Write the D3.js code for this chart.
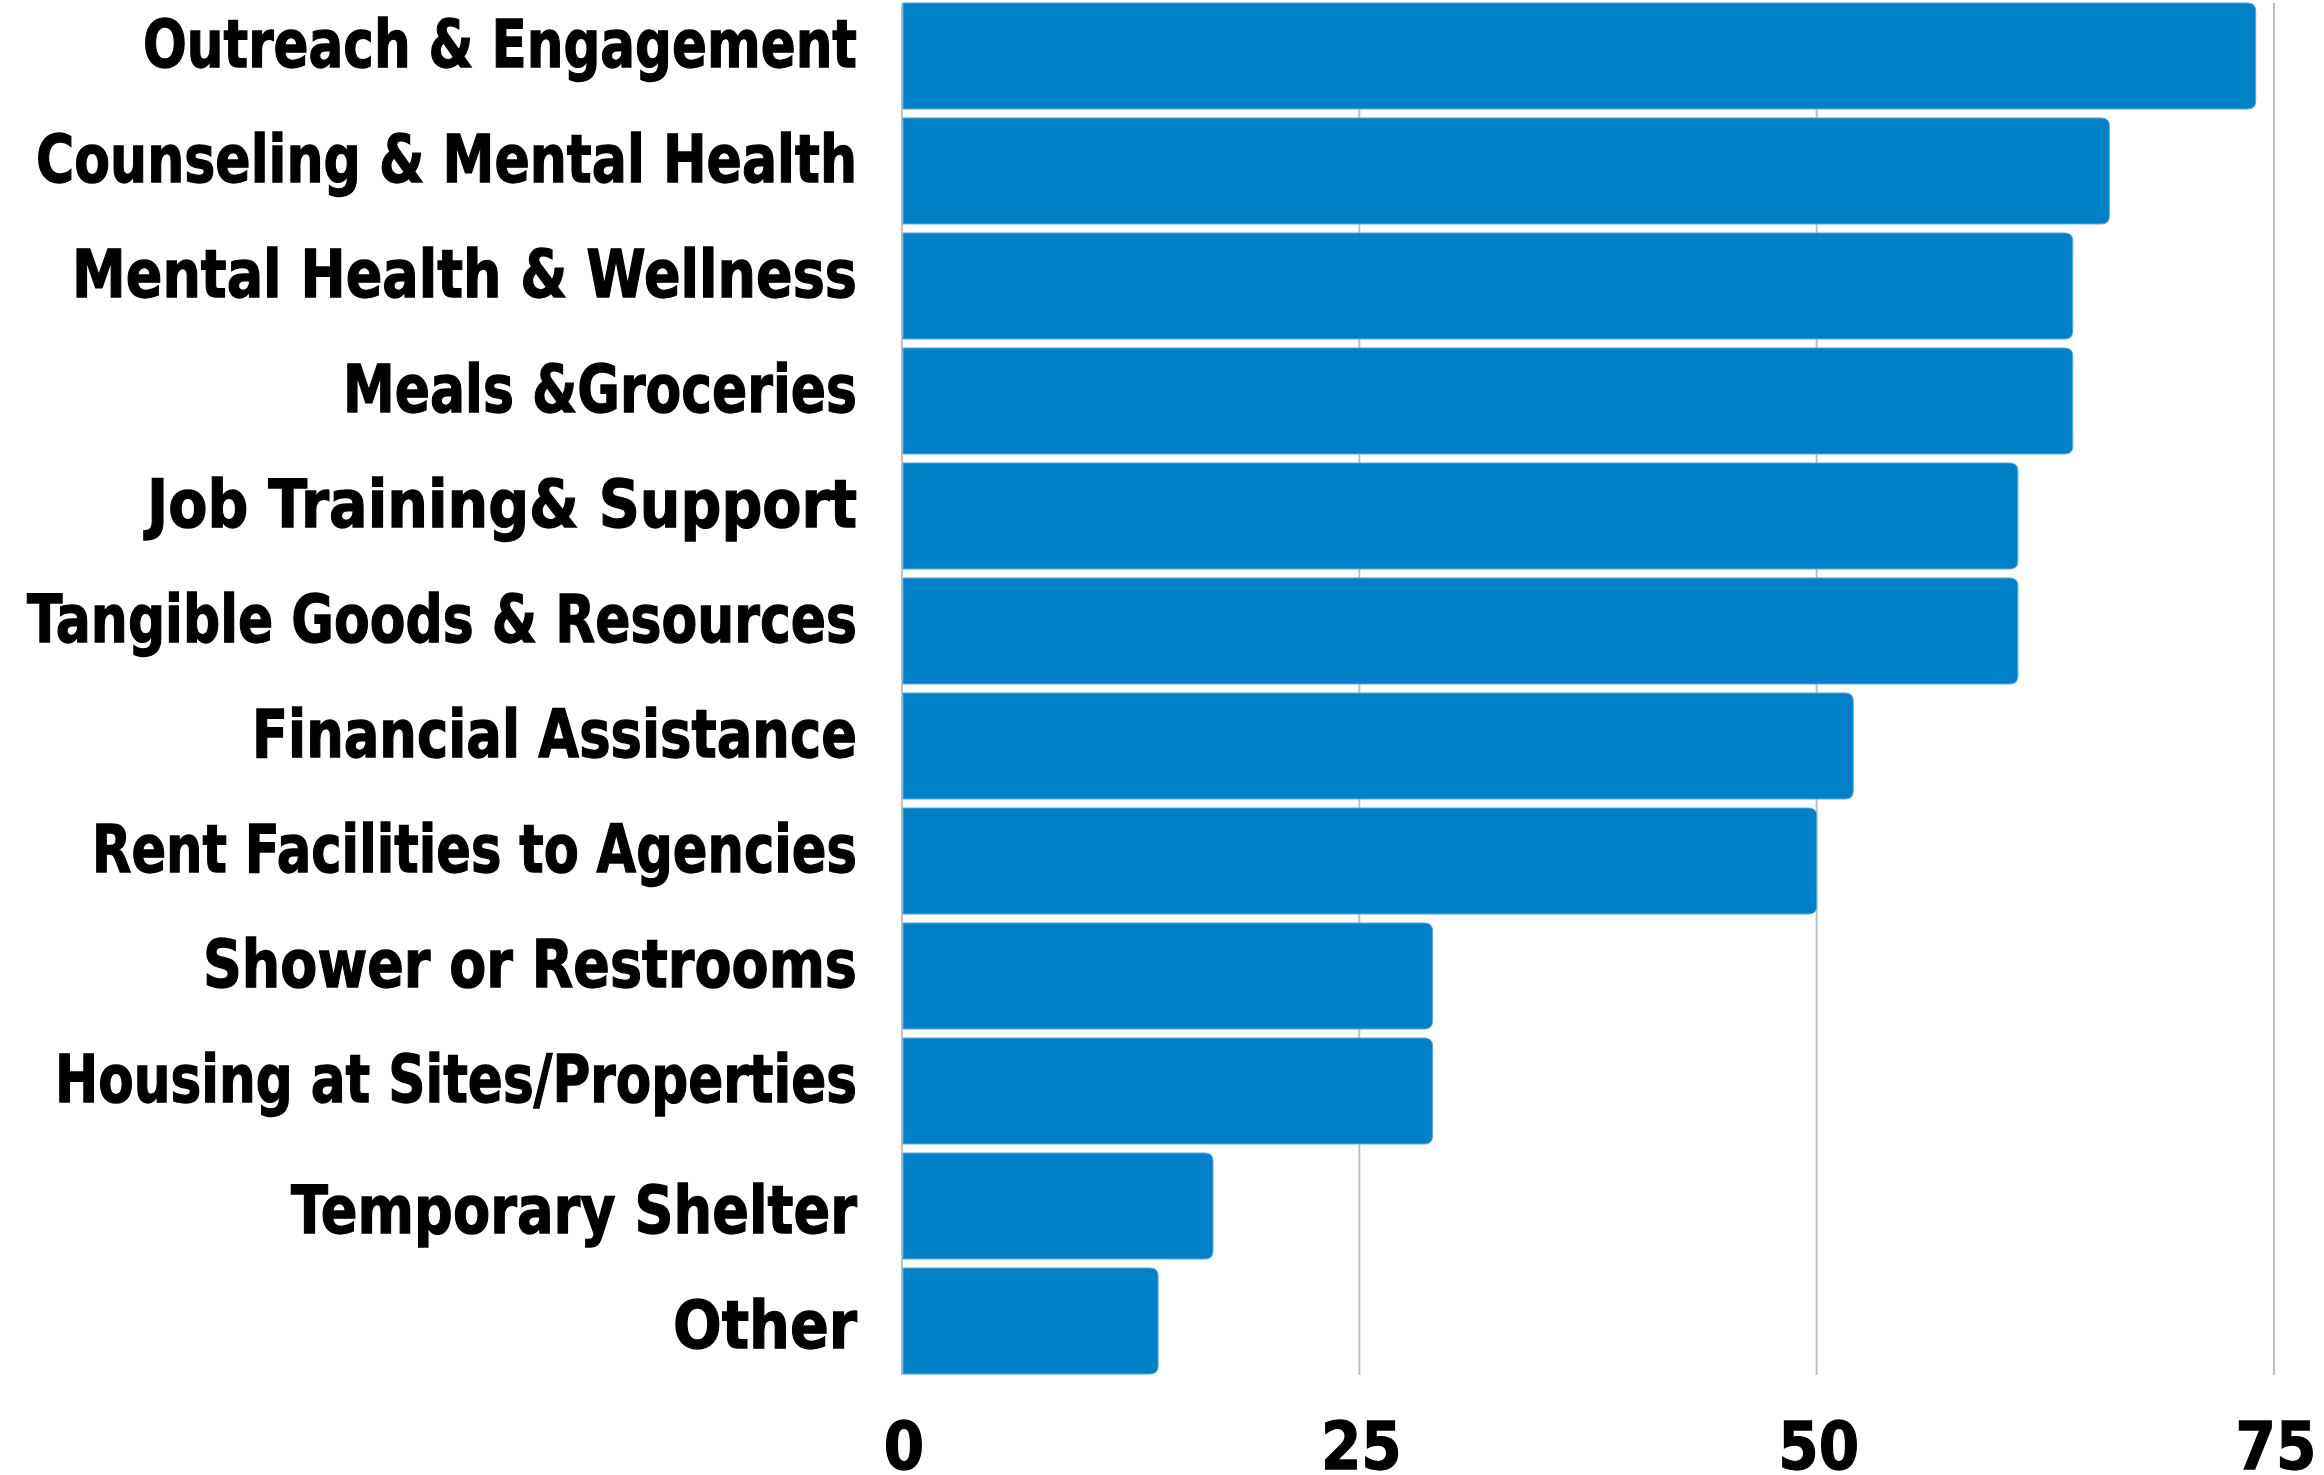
<!DOCTYPE html>
<html>
<head>
<meta charset="utf-8">
<script src="https://cdn.jsdelivr.net/npm/d3@7"></script>
<style>
  html, body { margin: 0; padding: 0; background: #ffffff; }
  svg { display: block; }
  text { font-family: "DejaVu Sans", Verdana, sans-serif; font-weight: bold; fill: #000; stroke: #000; stroke-width: 1.3px; }
</style>
</head>
<body>
<svg id="chart" width="2324" height="1475"></svg>
<script>
// Services offered, counts per category
const categories = [
  "Outreach & Engagement",
  "Counseling & Mental Health",
  "Mental Health & Wellness",
  "Meals &Groceries",
  "Job Training& Support",
  "Tangible Goods & Resources",
  "Financial Assistance",
  "Rent Facilities to Agencies",
  "Shower or Restrooms",
  "Housing at Sites/Properties",
  "Temporary Shelter",
  "Other"
];
const counts = [74, 66, 64, 64, 61, 61, 52, 50, 29, 29, 17, 14];
const tickValues = [0, 25, 50, 75];

// Layout: set width of each category label (condensed bold face)
const labelWidths = [714, 821, 785, 514, 710, 830, 605, 765, 654, 802, 566, 184];

const svg = d3.select("#chart");
const labelRight = 857;

const x = d3.scaleLinear().domain([0, 75]).range([902, 2274]);
const y = d3.scaleBand()
  .domain(categories)
  .range([-6, 1383])
  .paddingInner(0.078)
  .paddingOuter(0.078);

const gridTop = y(categories[0]);
const gridBottom = y(categories[categories.length - 1]) + y.bandwidth() + 1;

// vertical gridlines (the one at zero doubles as the axis line)
svg.append("g")
  .selectAll("line")
  .data(tickValues)
  .join("line")
  .attr("x1", d => x(d)).attr("x2", d => x(d))
  .attr("y1", gridTop).attr("y2", gridBottom)
  .attr("stroke", "#BFBFBF")
  .attr("stroke-width", 2);

// bars with rounded right-hand corners
const r = 8;
function barPath(v, cat) {
  const x0 = x(0) + 1, x1 = x(v);
  const y0 = y(cat), y1 = y(cat) + y.bandwidth();
  return `M${x0},${y0}H${x1 - r}Q${x1},${y0} ${x1},${y0 + r}V${y1 - r}Q${x1},${y1} ${x1 - r},${y1}H${x0}Z`;
}
svg.append("g")
  .selectAll("path")
  .data(categories.map((c, i) => ({ c, v: counts[i] })))
  .join("path")
  .attr("d", d => barPath(d.v, d.c))
  .attr("fill", "#0080C6")
  .attr("stroke", "#5DA9DD")
  .attr("stroke-width", 1);

// category labels, right-aligned against the axis
const lowered = new Set(["Temporary Shelter", "Other"]);
svg.append("g")
  .selectAll("text")
  .data(categories)
  .join("text")
  .attr("x", (d, i) => labelRight - labelWidths[i])
  .attr("y", d => y(d) + y.bandwidth() / 2 + (lowered.has(d) ? 27 : 11))
  .attr("textLength", (d, i) => labelWidths[i])
  .attr("lengthAdjust", "spacingAndGlyphs")
  .attr("font-size", 65)
  .text(d => d);

// value axis tick labels
svg.append("g")
  .selectAll("text")
  .data(tickValues)
  .join("text")
  .attr("transform", d => `translate(${x(d) + 2},1469) scale(0.88,1)`)
  .attr("text-anchor", "middle")
  .attr("font-size", 66)
  .text(d => d);
</script>
</body>
</html>
